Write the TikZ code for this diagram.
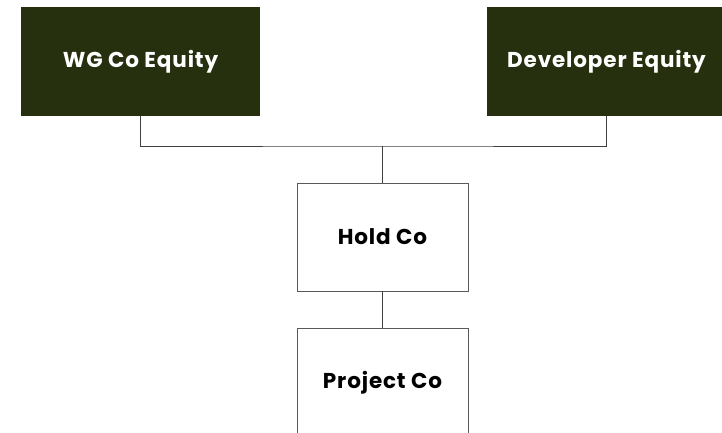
\documentclass[tikz,border=0pt]{standalone}
\usepackage{fontspec}
\setmainfont[LetterSpace=4]{Poppins}
\usepackage{xcolor}
\definecolor{equitygreen}{RGB}{38,48,14}
\usetikzlibrary{positioning}

\begin{document}
\begin{tikzpicture}[x=1pt,y=1pt,thick,line width=0.8pt,
    equity node/.style={rectangle,fill=equitygreen,text=white,minimum width=239pt,minimum height=109pt,font=\bfseries\fontsize{21.5}{24}\selectfont},
    co node/.style={rectangle,draw=black!65,fill=white,minimum width=171pt,minimum height=108pt,font=\bfseries\fontsize{21.5}{24}\selectfont}]
    \clip (0,0) rectangle (722,432);
    \fill[white] (0,0) rectangle (722,432);

    \node[equity node] (wg) at (140.5,370.5) {WG Co Equity};
    \node[equity node] (dev) at (606.5,370.5) {Developer Equity};
    \node[co node] (hold) at (382.5,195) {Hold Co};
    \node[co node] (project) [below=37pt of hold] {Project Co};

    \coordinate (bus) at (382.5,286);

    \path[draw=black!75]
        (wg.south) |- (bus) -| (dev.south)
        (bus) edge (hold.north)
        (hold.south) edge (project.north)
        ;
\end{tikzpicture}
\end{document}
